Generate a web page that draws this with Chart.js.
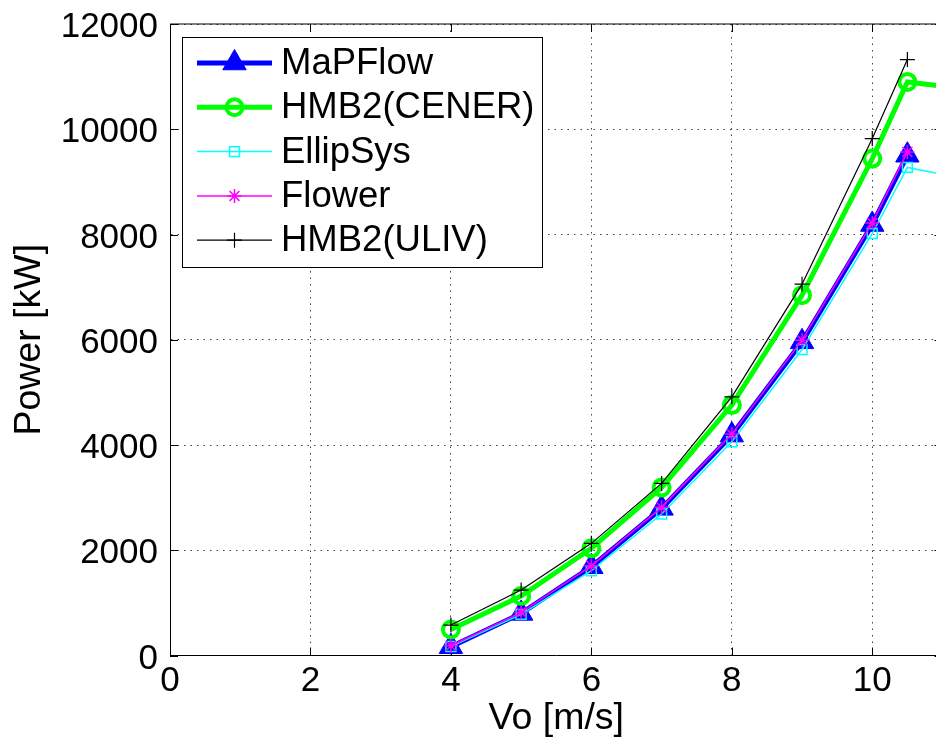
<!DOCTYPE html>
<html>
<head>
<meta charset="utf-8">
<script src="https://cdn.jsdelivr.net/npm/chart.js@4"></script>
<style>
    body { margin: 0; background: #fff; }
    #wrap { width: 936px; height: 747px; overflow: hidden; }
</style>
</head>
<body>
<div id="wrap"><canvas id="power_chart" width="957" height="747"></canvas></div>
<script>
// 風速 [m/s]
const wind_speed = [4, 5, 6, 7, 8, 9, 10, 10.5];
// 右端の外まで続く系列の風速
const wind_speed_ext = [4, 5, 6, 7, 8, 9, 10, 10.5, 11.5];
// 各コードの出力 [kW]
const mapflow_power = [167, 800, 1687, 2796, 4188, 5960, 8190, 9506];
const hmb2_cener_power = [495, 1130, 2036, 3194, 4758, 6847, 9443, 10899, 10739];
const ellipsys_power = [170, 782, 1611, 2688, 4061, 5815, 8019, 9275, 9010];
const flower_power = [186, 820, 1705, 2815, 4207, 5992, 8220, 9569];
const hmb2_uliv_power = [579, 1244, 2131, 3270, 4916, 7056, 9823, 11324];
// 目盛り
const x_ticks = [0, 2, 4, 6, 8, 10];
const y_ticks = [0, 2000, 4000, 6000, 8000, 10000, 12000];
// 凡例ラベル
const series_labels = ['MaPFlow', 'HMB2(CENER)', 'EllipSys', 'Flower', 'HMB2(ULIV)'];

Chart.defaults.font.family = '"Liberation Sans", Arial, sans-serif';
Chart.defaults.color = '#000';

// x,y の配列から点データを作成
function toPoints(xs, ys) {
    let points = [];
    for (let i = 0; i < ys.length; i++) {
        points.push({x: xs[i], y: ys[i]});
    }
    return points;
}

// 系列の設定を作成
function getDataset(label, data, color, style, radius, point_width, line_width, fill_point, order) {
    return {
        label: label,
        data: data,
        borderColor: color,
        borderWidth: line_width,
        pointStyle: style,
        pointRadius: radius,
        pointBorderColor: color,
        pointBorderWidth: point_width,
        pointBackgroundColor: fill_point ? color : 'rgba(0,0,0,0)',
        tension: 0,
        order: order
    };
}

// MATLAB風の枠と内向きの目盛り線
const boxPlugin = {
    id: 'boxPlugin',
    beforeDatasetsDraw(chart) {
        const ctx = chart.ctx;
        const area = chart.chartArea;
        const xs = chart.scales.x;
        const ys = chart.scales.y;
        ctx.save();
        ctx.strokeStyle = '#000';
        ctx.lineWidth = 1;
        ctx.beginPath();
        ctx.moveTo(area.left, area.top);
        ctx.lineTo(area.right, area.top);
        ctx.lineTo(area.right, area.bottom);
        x_ticks.forEach(function(v) {
            const px = Math.round(xs.getPixelForValue(v)) + 0.5;
            ctx.moveTo(px, area.bottom);
            ctx.lineTo(px, area.bottom - 8);
            ctx.moveTo(px, area.top);
            ctx.lineTo(px, area.top + 8);
        });
        y_ticks.forEach(function(v) {
            const py = Math.round(ys.getPixelForValue(v)) + 0.5;
            ctx.moveTo(area.left, py);
            ctx.lineTo(area.left + 8, py);
            ctx.moveTo(area.right, py);
            ctx.lineTo(area.right - 8, py);
        });
        ctx.stroke();
        ctx.restore();
    }
};

// 線とマーカーを並べた凡例
const legendPlugin = {
    id: 'legendPlugin',
    afterDraw(chart) {
        const ctx = chart.ctx;
        const box = {left: 182, top: 37, right: 542, bottom: 267};
        ctx.save();
        ctx.fillStyle = '#fff';
        ctx.fillRect(box.left, box.top, box.right - box.left, box.bottom - box.top);
        ctx.strokeStyle = '#000';
        ctx.lineWidth = 1;
        ctx.strokeRect(box.left + 0.5, box.top + 0.5, box.right - box.left, box.bottom - box.top);
        series_labels.forEach(function(label, i) {
            const ds = chart.data.datasets[i];
            const y = 63 + i * 44.3;
            ctx.beginPath();
            ctx.strokeStyle = ds.borderColor;
            ctx.lineWidth = ds.borderWidth;
            ctx.moveTo(197, y);
            ctx.lineTo(272, y);
            ctx.stroke();
            ctx.strokeStyle = ds.pointBorderColor;
            ctx.fillStyle = ds.pointBackgroundColor;
            ctx.lineWidth = ds.pointBorderWidth;
            Chart.helpers.drawPoint(ctx, {pointStyle: ds.pointStyle, radius: ds.pointRadius, rotation: 0, borderWidth: ds.pointBorderWidth}, 234.5, y);
            ctx.fillStyle = '#000';
            ctx.font = '36.5px "Liberation Sans", Arial, sans-serif';
            ctx.textAlign = 'left';
            ctx.textBaseline = 'middle';
            ctx.fillText(label, 281, y + 1);
        });
        ctx.restore();
    }
};

const ctx = document.getElementById('power_chart').getContext('2d');
const chart = new Chart(ctx, {
    type: 'line',
    data: {
        datasets: [
            getDataset(series_labels[0], toPoints(wind_speed, mapflow_power), '#0000ff', 'triangle', 13.5, 1, 5, true, 5),
            getDataset(series_labels[1], toPoints(wind_speed_ext, hmb2_cener_power), '#00ff00', 'circle', 8, 4, 5, false, 4),
            getDataset(series_labels[2], toPoints(wind_speed_ext, ellipsys_power), '#00ffff', 'rect', 7, 1.5, 1.5, false, 3),
            getDataset(series_labels[3], toPoints(wind_speed, flower_power), '#ff00ff', 'star', 7, 1.5, 1.5, false, 2),
            getDataset(series_labels[4], toPoints(wind_speed, hmb2_uliv_power), '#000000', 'cross', 7.5, 1.2, 1.2, false, 1)
        ]
    },
    options: {
        responsive: false,
        animation: false,
        events: [],
        layout: { padding: { left: 0, right: 1.5, top: 24, bottom: 0 } },
        scales: {
            x: {
                type: 'linear',
                min: 0,
                max: 11,
                afterBuildTicks: function(scale) {
                    scale.ticks = x_ticks.map(function(v) { return {value: v}; });
                },
                afterFit: function(scale) {
                    scale.height = 91.5;
                    scale.paddingLeft = 0;
                    scale.paddingRight = 0;
                },
                ticks: {
                    font: { size: 35 }, padding: 5, color: '#000',
                    callback: function(value) { return String(value); }
                },
                grid: { color: 'rgba(0,0,0,0.75)', lineWidth: 1, drawTicks: false },
                border: { display: true, color: '#000', width: 1, dash: [1.5, 5] },
                title: { display: true, text: 'Vo [m/s]', font: { size: 37.5 }, color: '#000', padding: { top: 0, bottom: 6 } }
            },
            y: {
                min: 0,
                max: 12000,
                afterBuildTicks: function(scale) {
                    scale.ticks = y_ticks.map(function(v) { return {value: v}; });
                },
                afterFit: function(scale) {
                    scale.width = 170;
                    scale.paddingTop = 0;
                    scale.paddingBottom = 0;
                },
                ticks: {
                    font: { size: 35 }, padding: 12, labelOffset: 3.5, color: '#000',
                    callback: function(value) { return String(value); }
                },
                grid: { color: 'rgba(0,0,0,0.75)', lineWidth: 1, drawTicks: false },
                border: { display: true, color: '#000', width: 1, dash: [1.5, 5] },
                title: { display: true, text: 'Power [kW]', font: { size: 37.5 }, color: '#000', padding: { top: 7, bottom: 0 } }
            }
        },
        plugins: {
            legend: { display: false },
            tooltip: { enabled: false }
        }
    },
    plugins: [boxPlugin, legendPlugin]
});

// 描画領域の右端を 942.5px に合わせる
const right_gap = chart.chartArea.right - 942.5;
if (Math.abs(right_gap) > 0.1) {
    chart.config.options.layout.padding.right = Math.max(0, 1.5 + right_gap);
    chart.update();
}
</script>
</body>
</html>
